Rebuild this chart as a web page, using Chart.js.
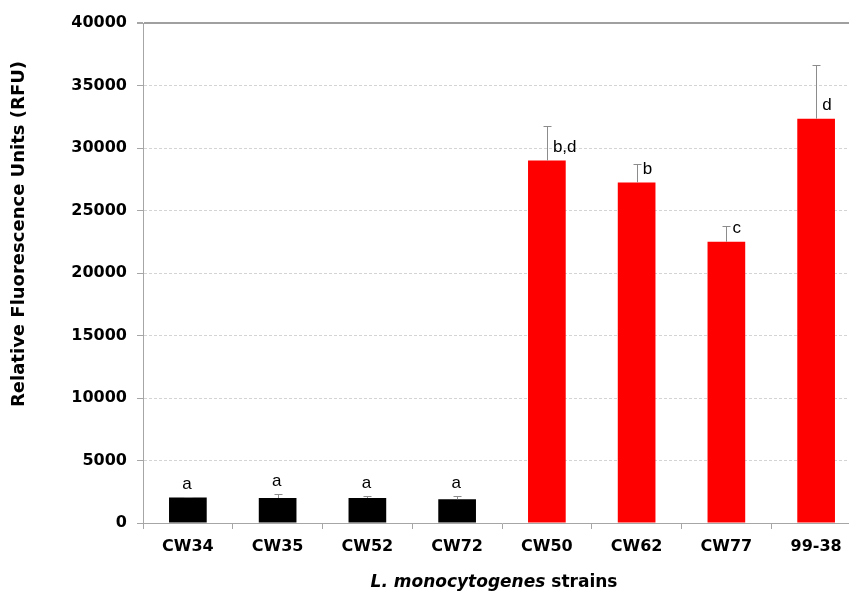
<!DOCTYPE html>
<html>
<head>
<meta charset="utf-8">
<script src="https://cdn.jsdelivr.net/npm/chart.js@4.4.0/dist/chart.umd.min.js"></script>
<style>
  html, body { margin: 0; padding: 0; background: #fff; overflow: hidden; }
  #wrap { width: 866px; height: 595px; }
</style>
</head>
<body>
<div id="wrap"><canvas id="chart1"></canvas></div>
<script>
/** data **/
const strains = ['CW34', 'CW35', 'CW52', 'CW72', 'CW50', 'CW62', 'CW77', '99-38'];
const rfu = [2050, 2000, 2000, 1900, 29000, 27250, 22500, 32350];
const errTop = [2100, 2350, 2200, 2150, 31750, 28700, 23800, 36600];
const letters = ['a', 'a', 'a', 'a', 'b,d', 'b', 'c', 'd'];
const barColors = ['#000000', '#000000', '#000000', '#000000', '#ff0000', '#ff0000', '#ff0000', '#ff0000'];
const yTicks = [0, 5000, 10000, 15000, 20000, 25000, 30000, 35000, 40000];

const FONT = '"DejaVu Sans", Arial, sans-serif';

const annot = {
  id: 'annot',
  afterDatasetsDraw(chart) {
    const ctx = chart.ctx;
    const x = chart.scales.x, y = chart.scales.y;
    ctx.save();
    // error bars (upper only)
    ctx.strokeStyle = '#8c8c8c';
    ctx.lineWidth = 1;
    for (let i = 0; i < strains.length; i++) {
      const cx = Math.round(x.getPixelForValue(i)) + 0.5;
      const y0 = y.getPixelForValue(rfu[i]);
      const y1 = Math.round(y.getPixelForValue(errTop[i])) + 0.5;
      ctx.beginPath();
      ctx.moveTo(cx, y0);
      ctx.lineTo(cx, y1);
      ctx.moveTo(cx - 4, y1);
      ctx.lineTo(cx + 4, y1);
      ctx.stroke();
    }
    // significance letters
    ctx.fillStyle = '#000';
    ctx.font = '17px "Liberation Sans", Arial, sans-serif';
    for (let i = 0; i < strains.length; i++) {
      const cx = x.getPixelForValue(i);
      if (i < 4) {
        ctx.textAlign = 'center';
        ctx.textBaseline = 'bottom';
        ctx.fillText(letters[i], cx - 1, y.getPixelForValue(errTop[i]) - 4);
      } else {
        ctx.textAlign = 'left';
        ctx.textBaseline = 'middle';
        ctx.fillText(letters[i], cx + 6, y.getPixelForValue(rfu[i]) - 13);
      }
    }
    // axis titles
    ctx.font = 'bold 18px ' + FONT;
    ctx.textAlign = 'center';
    ctx.textBaseline = 'middle';
    ctx.save();
    ctx.translate(19, 234);
    ctx.rotate(-Math.PI / 2);
    ctx.fillText('Relative Fluorescence Units (RFU)', 0, 0);
    ctx.restore();
    const t1 = 'L. monocytogenes', t2 = ' strains';
    ctx.font = 'italic bold 17px ' + FONT;
    const w1 = ctx.measureText(t1).width;
    ctx.font = 'bold 17px ' + FONT;
    const w2 = ctx.measureText(t2).width;
    const sx = 494 - (w1 + w2) / 2;
    ctx.textAlign = 'left';
    ctx.font = 'italic bold 17px ' + FONT;
    ctx.fillText(t1, sx, 583);
    ctx.font = 'bold 17px ' + FONT;
    ctx.fillText(t2, sx + w1, 583);
    ctx.restore();
  }
};

const isTop = (c) => c.tick && c.tick.value === 40000;

const config1 = {
  type: 'bar',
  data: {
    labels: strains,
    datasets: [{
      data: rfu,
      backgroundColor: barColors,
      categoryPercentage: 1,
      barPercentage: 0.42
    }]
  },
  options: {
    responsive: false,
    animation: false,
    devicePixelRatio: 1,
    layout: { padding: { left: 0, right: 5, top: 23, bottom: 0 } },
    plugins: { legend: false, tooltip: { enabled: false } },
    scales: {
      x: {
        grid: { display: true, offset: true, drawOnChartArea: false, tickLength: 6, color: '#a6a6a6' },
        border: { color: '#a6a6a6' },
        ticks: { color: '#000', font: { family: FONT, size: 16, weight: 'bold' }, padding: 8 },
        afterFit(s) { s.height = 72; }
      },
      y: {
        min: 0, max: 40000,
        afterBuildTicks(s) { s.ticks = yTicks.map(v => ({ value: v })); },
        grid: {
          color: (c) => isTop(c) ? '#a0a0a0' : '#d4d4d4',
          lineWidth: (c) => isTop(c) ? 2 : 1,
          tickColor: '#a6a6a6',
          tickLength: 6
        },
        border: { color: '#a6a6a6', dash: (c) => isTop(c) ? [] : [3, 2] },
        ticks: {
          color: '#000',
          font: { family: FONT, size: 16, weight: 'bold' },
          padding: 10,
          callback: (v) => String(v)
        },
        afterFit(s) { s.width = 143; }
      }
    }
  },
  plugins: [annot]
};

const canvas = document.getElementById('chart1');
canvas.width = 866;
canvas.height = 595;
const chart1 = new Chart(canvas, config1);
</script>
</body>
</html>
